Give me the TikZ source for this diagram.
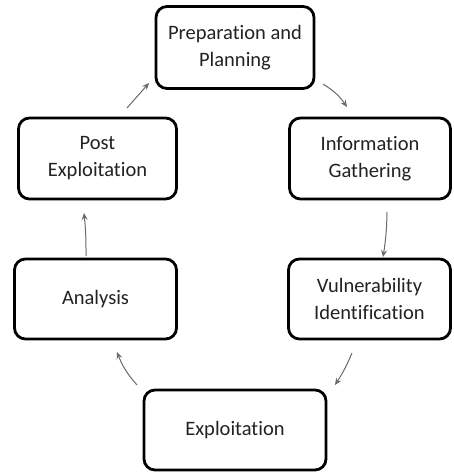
\documentclass[tikz,border=0pt]{standalone}
\usepackage{fontspec}
\setmainfont[Ligatures={NoCommon}]{Carlito}
\usetikzlibrary{arrows.meta}
\definecolor{txt}{HTML}{222222}
\definecolor{arr}{HTML}{6A6A6A}
\tikzset{
  phase/.style={draw=black, line width=2.8pt, rounded corners=11pt, fill=white,
    align=center, text=txt, font=\fontsize{20.5}{27}\selectfont,
    inner sep=0pt},
  flow/.style={draw=arr, line width=1pt,
    -{Stealth[length=7pt,width=6pt,inset=2.5pt]}}
}
\begin{document}
\begin{tikzpicture}[x=1pt,y=-1pt]
  \fill[white] (0,0) rectangle (453,473);
  \useasboundingbox (0,0) rectangle (453,473);

  % phases of the cycle
  \node[phase, minimum width=158pt, minimum height=82pt] (prep) at (235,47.5) {Preparation and\\Planning};
  \node[phase, minimum width=161pt, minimum height=81pt] (info) at (370,158.5) {Information\\Gathering};
  \node[phase, minimum width=162pt, minimum height=80pt] (vuln) at (369.5,299) {Vulnerability\\Identification};
  \node[phase, minimum width=182pt, minimum height=80pt] (expl) at (235,430) {Exploitation};
  \node[phase, minimum width=162pt, minimum height=80pt] (anal) at (95.5,299) {Analysis};
  \node[phase, minimum width=158pt, minimum height=81pt] (post) at (97.5,158.5) {Post\\Exploitation};

  % arrow end points between the phases
  \coordinate (a1s) at (127,108); \coordinate (a1e) at (149,83);
  \coordinate (a2s) at (323,84);  \coordinate (a2e) at (347,107);
  \coordinate (a3s) at (387,212); \coordinate (a3e) at (383,257);
  \coordinate (a4s) at (352,353); \coordinate (a4e) at (335,385);
  \coordinate (a5s) at (137,385); \coordinate (a5e) at (117,352);
  \coordinate (a6s) at (86,256);  \coordinate (a6e) at (84,213);

  \draw[flow] (a1s) -- (a1e);
  \draw[flow] (a2s) to[bend left=12] (a2e);
  \draw[flow] (a3s) to[bend left=4] (a3e);
  \draw[flow] (a4s) to[bend left=5] (a4e);
  \draw[flow] (a5s) to[bend left=10] (a5e);
  \draw[flow] (a6s) to[bend right=3] (a6e);
\end{tikzpicture}
\end{document}
